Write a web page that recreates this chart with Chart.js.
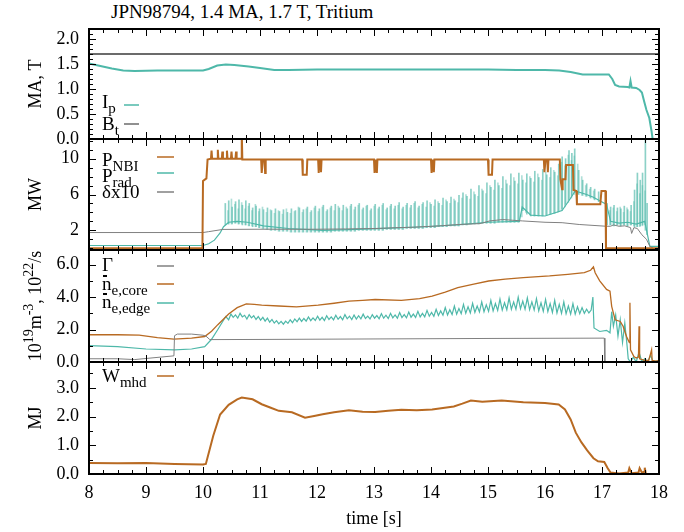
<!DOCTYPE html>
<html>
<head>
<meta charset="utf-8">
<script src="https://cdn.jsdelivr.net/npm/chart.js@4.4.0/dist/chart.umd.min.js"></script>
<style>
  body { margin: 0; background: #fff; }
  #wrap { position: relative; width: 684px; height: 532px; background: #fff; }
  #wrap canvas { position: absolute; left: 0; top: 0; }
  #title { position: absolute; left: 111px; top: 1px; font: 19px "Liberation Serif", "Times New Roman", serif; white-space: nowrap; }
</style>
</head>
<body>
<div id="wrap">
  <div id="title">JPN98794, 1.4 MA, 1.7 T, Tritium</div>
  <canvas id="c1" width="684" height="532"></canvas>
  <canvas id="c2" width="684" height="532"></canvas>
  <canvas id="c3" width="684" height="532"></canvas>
  <canvas id="c4" width="684" height="532"></canvas>
</div>
<script>
const SERIF = '"Liberation Serif", "Times New Roman", serif';
const TEAL = '#4eb8a9';
const BROWN = '#b86a22';

// tick labels
const timeTicks = [8, 9, 10, 11, 12, 13, 14, 15, 16, 17, 18];
const maTicks = [0, 0.5, 1, 1.5, 2];
const mwTicks = [2, 6, 10];
const denTicks = [0, 2, 4, 6];
const mjTicks = [0, 1, 2, 3];

// panel 1: plasma current and toroidal field [t, value]
const ip = [[8,1.51],[8.2,1.46],[8.4,1.41],[8.6,1.37],[8.8,1.36],[9.2,1.37],[9.6,1.37],[10.0,1.37],[10.1,1.4],
  [10.25,1.47],[10.4,1.49],[10.55,1.48],[10.8,1.45],[11.0,1.42],[11.25,1.38],[11.5,1.38],[12.0,1.39],[12.5,1.39],
  [13.0,1.39],[13.5,1.39],[14.0,1.39],[14.5,1.39],[15.0,1.39],[15.5,1.38],[16.0,1.38],[16.25,1.37],[16.45,1.34],
  [16.66,1.29],[16.9,1.29],[17.12,1.29],[17.18,1.2],[17.23,1.08],[17.3,1.05],[17.45,1.04],[17.48,1.03],[17.5,1.16],
  [17.52,1.03],[17.6,1.02],[17.66,0.98],[17.7,0.93],[17.74,0.75],[17.78,0.58],[17.83,0.42],[17.87,0.15],[17.9,-0.1]];
const bt = [[8,1.7],[18,1.7]];

// panel 2: heating, radiation, triangularity
const pnbi = [[8,0],[9.99,0],[10.0,7.5],[10.06,7.8],[10.08,9.9],[10.14,10.0],[10.15,10.9],[10.16,10.0],[10.25,10.0],
  [10.26,11.0],[10.27,10.0],[10.33,10.0],[10.34,10.8],[10.35,10.0],[10.41,10.0],[10.42,10.9],[10.43,10.0],[10.49,10.0],
  [10.5,10.8],[10.51,10.0],[10.57,10.0],[10.58,10.8],[10.59,10.0],[10.67,10.0],[10.68,13],[10.69,9.9],[11.02,9.9],
  [11.03,8.4],[11.05,9.9],[11.08,9.9],[11.09,8.4],[11.1,9.9],[11.74,9.9],[11.75,8.2],[11.82,8.2],[11.83,9.9],
  [12.02,9.9],[12.03,8.4],[12.04,9.9],[12.06,9.9],[12.07,8.5],[12.08,9.9],[13.0,9.9],[13.01,8.4],[13.03,9.9],
  [13.05,8.4],[13.06,9.9],[14.0,9.9],[14.01,8.4],[14.03,9.9],[14.05,8.5],[14.06,9.9],[15.0,9.9],[15.01,8.2],
  [15.07,8.2],[15.08,9.9],[15.98,9.9],[15.99,8.5],[16.01,9.9],[16.04,9.9],[16.05,8.5],[16.06,9.9],[16.26,9.9],
  [16.27,7.7],[16.3,6.6],[16.31,7.7],[16.36,7.7],[16.37,9.3],[16.49,9.3],[16.5,6.5],[16.55,6.4],[16.56,4.9],
  [16.97,4.9],[16.99,6.4],[17.06,6.4],[17.07,0],[18,0]];
const prad = [[8,0.3],[10.0,0.3],[10.1,0.5],[10.2,0.9],[10.3,1.7],[10.36,2.4],[10.45,2.9],[10.6,3.0],[10.78,2.9],
  [11.06,2.5],[11.5,2.2],[12.1,2.0],[12.7,2.1],[13.3,2.25],[13.9,2.4],[14.45,2.6],[15.0,2.9],[15.55,3.0],[15.6,4.6],
  [15.75,3.7],[16.0,3.6],[16.3,4.2],[16.44,5.5],[16.53,6.4],[16.73,6.0],[16.85,5.7],[16.96,5.3],[17.08,4.9],
  [17.15,3.0],[17.3,2.8],[17.45,2.9],[17.6,2.7],[17.75,3.0],[17.84,0.2],[18,0.2]];
// radiation bursts [t, low, high]
const pradSpikes = [[10.40,2.6,5.0],[10.46,2.7,5.3],[10.52,2.7,4.6],[10.58,2.8,5.2],[10.64,2.7,5.4],[10.70,2.6,4.8],
  [10.76,2.6,5.3],[10.82,2.5,5.0],[10.88,2.4,4.5],[10.94,2.4,4.7],[11.00,2.3,4.4],[11.07,2.2,4.3],[11.14,2.1,4.5],
  [11.21,2.0,4.2],[11.28,2.0,4.4],[11.35,1.9,4.1],[11.42,1.9,4.3],[11.49,1.9,4.0],[11.56,1.8,4.4],[11.63,1.8,4.2],
  [11.70,1.8,4.5],[11.77,1.8,4.3],[11.84,1.8,4.6],[11.91,1.8,4.2],[11.98,1.8,4.7],[12.05,1.8,4.4],[12.12,1.8,4.8],
  [12.19,1.8,4.3],[12.26,1.8,4.7],[12.33,1.9,4.9],[12.40,1.9,4.5],[12.47,1.9,4.8],[12.54,1.9,4.4],[12.61,1.9,4.9],
  [12.68,1.9,4.6],[12.75,2.0,5.0],[12.82,2.0,4.5],[12.89,2.0,4.8],[12.96,2.0,4.4],[13.03,2.0,4.9],[13.10,2.0,4.6],
  [13.17,2.0,5.0],[13.24,2.1,4.5],[13.31,2.1,4.9],[13.38,2.1,4.7],[13.45,2.1,5.1],[13.52,2.1,4.6],[13.59,2.2,5.0],
  [13.66,2.2,4.8],[13.73,2.2,5.2],[13.80,2.2,4.7],[13.87,2.2,5.1],[13.94,2.3,5.3],[14.01,2.3,4.9],[14.08,2.3,5.4],
  [14.15,2.4,5.0],[14.22,2.4,5.6],[14.29,2.4,5.2],[14.36,2.5,5.7],[14.43,2.5,5.3],[14.50,2.5,5.9],[14.57,2.6,6.2],
  [14.64,2.6,5.8],[14.71,2.7,6.6],[14.78,2.7,6.0],[14.85,2.7,7.0],[14.92,2.8,6.4],[14.99,2.8,7.3],[15.06,2.8,6.8],
  [15.13,2.8,7.6],[15.20,2.9,7.0],[15.27,2.9,8.0],[15.34,2.9,7.2],[15.41,2.9,8.3],[15.48,2.9,7.5],[15.55,2.9,8.4],
  [15.62,4.2,7.6],[15.69,3.8,8.3],[15.76,3.6,7.8],[15.83,3.6,8.6],[15.90,3.6,7.9],[15.97,3.6,8.8],[16.04,3.7,8.2],
  [16.11,3.8,9.0],[16.18,3.9,8.5],[16.25,4.1,9.4],[16.31,4.4,10.2],[16.37,4.9,10.0],[16.43,5.4,10.9],[16.48,5.9,10.6],
  [16.53,6.2,11.1],[16.60,6.0,8.7],[16.67,5.9,7.6],[16.74,5.8,7.2],[16.81,5.6,6.8],[16.88,5.4,6.6],[16.95,5.2,6.3],
  [17.10,2.6,5.0],[17.16,2.6,4.6],[17.22,2.5,4.8],[17.28,2.6,4.5],[17.34,2.5,4.4],[17.40,2.6,4.7],[17.46,2.5,4.3],
  [17.52,2.6,4.8],[17.58,2.4,6.5],[17.63,2.4,8.4],[17.68,2.5,7.6],[17.72,2.6,8.4],[17.77,2.0,13],[17.80,1.5,5.0]];
// weaker bursts between the main ones [t, low, high]
const pradSpikes2 = [[10.43,2.7,4.2],[10.49,2.7,5.5],[10.55,2.8,4.9],[10.61,2.7,4.4],[10.67,2.7,5.1],[10.73,2.6,4.4],
  [10.79,2.5,4.7],[10.85,2.5,4.2],[10.91,2.4,4.9],[10.97,2.3,4.1],[11.035,2.2,4.6],[11.105,2.1,4.0],[11.175,2.0,4.3],
  [11.245,2.0,3.9],[11.315,1.9,4.2],[11.385,1.9,3.8],[11.455,1.9,4.4],[11.525,1.8,3.9],[11.595,1.8,4.1],[11.665,1.8,4.6],
  [11.735,1.8,4.0],[11.805,1.8,4.4],[11.875,1.8,4.0],[11.945,1.8,4.5],[12.015,1.8,4.1],[12.085,1.8,4.6],[12.155,1.8,4.1],
  [12.225,1.8,4.5],[12.295,1.9,4.2],[12.365,1.9,4.7],[12.435,1.9,4.2],[12.505,1.9,4.6],[12.575,1.9,4.7],[12.645,1.9,4.3],
  [12.715,2.0,4.8],[12.785,2.0,4.3],[12.855,2.0,4.7],[12.925,2.0,4.2],[12.995,2.0,4.7],[13.065,2.0,4.4],[13.135,2.0,4.8],
  [13.205,2.1,4.3],[13.275,2.1,4.7],[13.345,2.1,4.4],[13.415,2.1,4.8],[13.485,2.1,4.4],[13.555,2.2,4.8],[13.625,2.2,4.5],
  [13.695,2.2,5.0],[13.765,2.2,4.5],[13.835,2.2,4.9],[13.905,2.3,4.6],[13.975,2.3,5.1],[14.045,2.3,4.7],[14.115,2.4,5.2],
  [14.185,2.4,4.8],[14.255,2.4,5.4],[14.325,2.5,5.0],[14.395,2.5,5.5],[14.465,2.5,5.1],[14.535,2.6,5.6],[14.605,2.6,6.0],
  [14.675,2.7,5.5],[14.745,2.7,6.3],[14.815,2.7,5.8],[14.885,2.8,6.6],[14.955,2.8,6.1],[15.025,2.8,7.0],[15.095,2.8,6.5],
  [15.165,2.9,7.3],[15.235,2.9,6.7],[15.305,2.9,7.6],[15.375,2.9,7.0],[15.445,2.9,7.9],[15.515,2.9,7.2],[15.585,3.5,8.1],
  [15.655,4.0,7.3],[15.725,3.7,8.0],[15.795,3.6,7.4],[15.865,3.6,8.3],[15.935,3.6,7.6],[16.005,3.7,8.5],[16.075,3.8,7.9],
  [16.145,3.9,8.7],[16.215,4.0,8.1],[16.28,4.2,9.6],[16.34,4.6,9.2],[16.40,5.1,10.4],[16.455,5.6,9.8],[16.505,6.0,10.3],
  [16.565,6.1,9.4],[16.635,5.9,8.0],[16.705,5.8,7.0],[16.775,5.7,6.6],[16.845,5.5,6.4],[17.13,2.6,4.2],[17.19,2.5,4.5],
  [17.25,2.6,4.1],[17.31,2.5,4.6],[17.37,2.6,4.0],[17.43,2.5,4.5],[17.49,2.6,4.1],[17.55,2.5,5.2],[17.605,2.4,7.2],
  [17.655,2.4,6.1],[17.70,2.5,7.0],[17.745,2.6,6.4]];
const delta10 = [[8,1.75],[10.0,1.75],[10.1,1.85],[10.35,2.1],[11.0,2.12],[12.0,2.12],[12.5,2.15],[13.0,2.2],
  [13.3,2.27],[13.7,2.35],[14.16,2.5],[14.5,2.65],[14.86,2.75],[15.03,3.05],[15.26,3.2],[15.6,3.05],[16.0,2.9],
  [16.3,2.85],[16.6,2.65],[17.08,2.45],[17.15,2.45],[17.2,2.6],[17.3,2.45],[17.4,2.5],[17.5,2.3],[17.52,1.65],
  [17.56,2.3],[17.62,2.2],[17.7,1.5],[17.78,1.0],[17.84,0.2],[17.9,0.0]];

// panel 3: gas fuelling and densities
const gas = [[8,0.2],[8.5,0.2],[8.8,0.15],[9.49,0.38],[9.5,1.62],[9.55,1.72],[9.8,1.72],[10.0,1.65],[10.05,1.6],
  [10.12,1.38],[11.0,1.39],[13.0,1.42],[15.0,1.45],[17.04,1.47],[17.05,0],[18,0]];
const neCore = [[8,1.68],[8.5,1.68],[8.88,1.66],[9.2,1.5],[9.49,1.41],[9.8,1.47],[10.03,1.57],[10.15,1.9],[10.26,2.3],
  [10.45,2.96],[10.6,3.35],[10.76,3.58],[10.9,3.55],[11.03,3.5],[11.33,3.45],[11.64,3.4],[12.02,3.5],[12.3,3.62],
  [12.56,3.75],[12.8,3.8],[13.02,3.85],[13.48,3.8],[13.8,3.9],[14.02,4.06],[14.25,4.3],[14.47,4.58],[14.75,4.8],
  [15.01,4.99],[15.3,5.1],[15.62,5.2],[16.08,5.3],[16.4,5.4],[16.69,5.5],[16.8,5.65],[16.85,5.86],[16.88,5.5],
  [16.96,5.0],[17.08,4.47],[17.14,4.37],[17.17,3.43],[17.23,2.6],[17.32,2.5],[17.37,2.2],[17.43,1.57],[17.48,1.2],
  [17.49,3.65],[17.5,0.75],[17.56,0.33],[17.6,0.25],[17.64,0.3],[17.65,2.2],[17.66,0.2],[17.75,0.1],[17.82,0.1],
  [17.87,0.75],[17.88,0.1],[17.95,0.05],[18,0.1]];
const neEdge = [[8,1.01],[8.5,0.95],[9.0,0.8],[9.5,0.75],[9.8,0.8],[10.03,0.95],[10.15,1.4],[10.26,2.0],[10.4,2.8],
  [10.45,2.6],[10.49,2.95],[10.53,2.75],[10.57,2.9],[10.61,2.7],[10.65,3.0],[10.69,2.78],[10.73,2.88],[10.77,2.65],
  [10.81,2.92],[10.85,2.72],[10.89,2.85],[10.93,2.62],[10.97,2.8],[11.01,2.58],[11.05,2.75],[11.09,2.52],[11.13,2.7],
  [11.17,2.45],[11.21,2.62],[11.25,2.4],[11.29,2.55],[11.33,2.35],[11.37,2.5],[11.41,2.33],[11.45,2.52],[11.49,2.38],
  [11.53,2.6],[11.57,2.42],[11.61,2.65],[11.65,2.48],[11.69,2.7],[11.73,2.5],[11.77,2.68],[11.81,2.52],[11.85,2.78],
  [11.89,2.55],[11.93,2.72],[11.97,2.56],[12.01,2.82],[12.05,2.58],[12.09,2.75],[12.13,2.55],[12.17,2.85],[12.21,2.62],
  [12.25,2.78],[12.29,2.6],[12.33,2.88],[12.37,2.63],[12.41,2.8],[12.45,2.6],[12.49,2.92],[12.53,2.66],[12.57,2.82],
  [12.61,2.62],[12.65,2.9],[12.69,2.64],[12.73,2.85],[12.77,2.66],[12.81,2.95],[12.85,2.68],[12.89,2.83],[12.93,2.65],
  [12.97,2.92],[13.01,2.7],[13.05,2.86],[13.09,2.66],[13.13,2.98],[13.17,2.7],[13.21,2.88],[13.25,2.68],[13.29,3.0],
  [13.33,2.72],[13.37,2.9],[13.41,2.7],[13.45,3.05],[13.49,2.74],[13.53,2.92],[13.57,2.72],[13.61,3.08],[13.65,2.76],
  [13.69,2.95],[13.73,2.75],[13.77,3.12],[13.81,2.78],[13.85,3.0],[13.89,2.78],[13.93,3.18],[13.97,2.82],[14.01,3.05],
  [14.05,2.82],[14.09,3.25],[14.13,2.86],[14.17,3.15],[14.21,2.88],[14.25,3.35],[14.29,2.9],[14.33,3.22],[14.37,2.92],
  [14.41,3.45],[14.45,2.95],[14.49,3.3],[14.53,2.98],[14.57,3.55],[14.61,3.0],[14.65,3.4],[14.69,3.02],[14.73,3.62],
  [14.77,3.05],[14.81,3.45],[14.85,3.08],[14.89,3.7],[14.93,3.1],[14.97,3.52],[15.01,3.12],[15.05,3.8],[15.09,3.15],
  [15.13,3.6],[15.17,3.18],[15.21,3.88],[15.25,3.2],[15.29,3.65],[15.33,3.22],[15.37,3.95],[15.41,3.25],[15.45,3.7],
  [15.49,3.25],[15.53,4.0],[15.57,3.28],[15.61,3.75],[15.65,3.25],[15.69,3.95],[15.73,3.22],[15.77,3.7],[15.81,3.2],
  [15.85,3.9],[15.89,3.15],[15.93,3.65],[15.97,3.12],[16.01,3.85],[16.05,3.1],[16.09,3.6],[16.13,3.05],[16.17,3.8],
  [16.21,3.02],[16.25,3.55],[16.29,3.0],[16.33,3.7],[16.37,2.98],[16.41,3.45],[16.45,2.95],[16.49,3.6],[16.53,2.95],
  [16.57,3.4],[16.61,2.98],[16.65,3.35],[16.69,3.0],[16.73,3.25],[16.77,3.02],[16.81,3.2],[16.84,4.0],
  [16.86,2.1],[16.96,1.88],[17.08,1.95],[17.14,1.8],[17.17,3.1],[17.2,2.2],[17.24,2.9],[17.28,1.6],[17.32,2.6],
  [17.36,1.2],[17.4,2.4],[17.44,1.0],[17.46,0.2],[17.5,0.0],[17.55,0.3],[17.6,0.0],[17.65,0.6],[17.7,0.0],
  [17.75,0.2],[17.8,0.0],[17.85,0.4],[17.9,0.0],[18,0.1]];

// panel 4: stored energy
const wmhd = [[8,0.38],[8.5,0.37],[9.0,0.38],[9.5,0.35],[10.0,0.33],[10.05,0.35],[10.18,1.33],[10.3,2.07],[10.45,2.41],
  [10.6,2.6],[10.68,2.66],[10.87,2.6],[11.03,2.43],[11.2,2.3],[11.33,2.2],[11.56,2.15],[11.79,1.96],[11.95,2.02],
  [12.1,2.08],[12.3,2.15],[12.56,2.22],[12.8,2.17],[13.02,2.16],[13.25,2.2],[13.48,2.24],[13.75,2.22],[14.02,2.25],
  [14.4,2.35],[14.55,2.45],[14.7,2.56],[14.9,2.52],[15.24,2.56],[15.62,2.5],[16.0,2.47],[16.24,2.42],[16.35,2.25],
  [16.45,1.9],[16.54,1.44],[16.64,1.1],[16.74,0.82],[16.85,0.55],[16.93,0.44],[17.04,0.42],[17.1,0.2],[17.15,0.05],
  [17.3,0.02],[17.46,0.05],[17.48,0.2],[17.52,0.03],[17.64,0.05],[17.66,0.2],[17.7,0.05],[17.74,0.08],[17.75,0.22],
  [17.77,0.0]];

const pts = arr => arr.map(([x, y]) => ({ x, y }));
const line = (data, color, width) => ({
  type: 'line', data: pts(data), borderColor: color, borderWidth: width,
  pointRadius: 0, tension: 0, fill: false
});
const bursts = (data, color) => ({
  type: 'bar', data: data.map(([t, lo, hi]) => ({ x: t, y: [lo, hi] })),
  backgroundColor: color, borderWidth: 0, barThickness: 1
});

// text with sub (-1) / superscripts (1)
function rich(ctx, parts, x, y, size, draw) {
  let cx = x;
  for (const [t, m] of parts) {
    const fs = m ? Math.round(size * 0.8) : size;
    ctx.font = fs + 'px ' + SERIF;
    const dy = m === 1 ? -size * 0.42 : m === -1 ? size * 0.24 : 0;
    if (draw) ctx.fillText(t, cx, y + dy);
    cx += ctx.measureText(t).width;
  }
  return cx - x;
}

function framePlugin(cfg) {
  return {
    id: 'frame',
    afterDatasetsDraw(chart) {
      const { ctx, chartArea: a } = chart;
      const xs = chart.scales.x, ys = chart.scales.y;
      ctx.save();
      ctx.strokeStyle = '#000';
      ctx.lineWidth = 1;
      ctx.beginPath();
      for (let i = 0; i <= 40; i++) {
        const v = xs.min + i * 0.25;
        const px = Math.round(xs.getPixelForValue(v)) + 0.5;
        const len = i % 4 === 0 ? 7 : 4;
        ctx.moveTo(px, a.top); ctx.lineTo(px, a.top + len);
        ctx.moveTo(px, a.bottom); ctx.lineTo(px, a.bottom - len);
      }
      const n = Math.floor((ys.max - cfg.minorFrom) / cfg.minor + 1e-6);
      for (let i = 0; i <= n; i++) {
        const v = cfg.minorFrom + i * cfg.minor;
        const py = Math.round(ys.getPixelForValue(v)) + 0.5;
        const len = cfg.ticks.some(t => Math.abs(t - v) < 1e-6) ? 7 : 4;
        ctx.moveTo(a.left, py); ctx.lineTo(a.left + len, py);
        ctx.moveTo(a.right, py); ctx.lineTo(a.right - len, py);
      }
      ctx.stroke();
      ctx.lineWidth = 2;
      ctx.strokeRect(a.left, a.top, a.right - a.left, a.bottom - a.top);

      // rotated axis title
      ctx.fillStyle = '#000';
      ctx.textBaseline = 'alphabetic';
      ctx.textAlign = 'left';
      ctx.save();
      ctx.translate(41, (a.top + a.bottom) / 2);
      ctx.rotate(-Math.PI / 2);
      const w = rich(ctx, cfg.yTitle, 0, 0, 18, false);
      rich(ctx, cfg.yTitle, -w / 2, 0, 18, true);
      ctx.restore();

      // key
      for (const e of cfg.key) {
        const tx = a.left + 13, ty = a.top + e.y;
        ctx.fillStyle = '#000';
        rich(ctx, e.parts, tx, ty, 19, true);
        if (e.bar) ctx.fillRect(tx + 1, ty - 15, 4, 2);
        ctx.strokeStyle = e.color;
        ctx.lineWidth = 1.5;
        ctx.beginPath();
        ctx.moveTo(a.left + cfg.keyX[0], a.top + e.ly);
        ctx.lineTo(a.left + cfg.keyX[1], a.top + e.ly);
        ctx.stroke();
      }
      ctx.restore();
    }
  };
}

function panel(id, cfg) {
  const last = cfg.last;
  const font = { family: SERIF, size: 18 };
  new Chart(document.getElementById(id), {
    type: 'line',
    data: { datasets: cfg.datasets },
    options: {
      responsive: false,
      animation: false,
      events: [],
      layout: { padding: { left: 0, right: 25, top: cfg.top, bottom: last ? 0 : 532 - cfg.bottom } },
      plugins: { legend: { display: false }, tooltip: { enabled: false } },
      scales: {
        x: {
          type: 'linear', min: 8, max: 18, offset: false,
          grid: { display: false, drawTicks: false },
          border: { display: false },
          afterBuildTicks: s => { s.ticks = timeTicks.map(v => ({ value: v })); },
          afterFit: s => { s.height = last ? 532 - cfg.bottom : 0; },
          ticks: { display: last, font, color: '#000', padding: 8, maxRotation: 0, autoSkip: false },
          title: { display: last, text: 'time [s]', font, color: '#000', padding: { top: 0, bottom: 2 } }
        },
        y: {
          type: 'linear', min: cfg.min, max: cfg.max,
          grid: { display: false, drawTicks: false },
          border: { display: false },
          afterBuildTicks: s => { s.ticks = cfg.ticks.map(v => ({ value: v })); },
          afterFit: s => { s.width = 89; },
          ticks: { font, color: '#000', padding: 10, autoSkip: false, callback: v => v.toFixed(cfg.digits) }
        }
      }
    },
    plugins: [framePlugin(cfg)]
  });
}

panel('c1', {
  top: 29, bottom: 139, min: 0, max: 2.2, ticks: maTicks, digits: 1, minor: 0.1, minorFrom: 0,
  yTitle: [['MA, T', 0]],
  keyX: [35, 50],
  key: [
    { parts: [['I', 0], ['p', -1]], color: TEAL, y: 79, ly: 76 },
    { parts: [['B', 0], ['t', -1]], color: '#6b6b6b', y: 101, ly: 95 }
  ],
  datasets: [line(ip, TEAL, 2), line(bt, '#6b6b6b', 2)]
});

panel('c2', {
  top: 139, bottom: 250, min: -0.2, max: 12.2, ticks: mwTicks, digits: 0, minor: 1, minorFrom: 0,
  yTitle: [['MW', 0]],
  keyX: [68, 85],
  key: [
    { parts: [['P', 0], ['NBI', -1]], color: BROWN, y: 27, ly: 18 },
    { parts: [['P', 0], ['rad', -1]], color: TEAL, y: 43, ly: 34 },
    { parts: [['δx10', 0]], color: '#808080', y: 59, ly: 53 }
  ],
  datasets: [
    line(pnbi, BROWN, 2),
    line(delta10, '#808080', 1),
    line(prad, TEAL, 1.2),
    bursts(pradSpikes, 'rgba(78,184,169,0.65)'),
    bursts(pradSpikes2, 'rgba(78,184,169,0.45)')
  ]
});

panel('c3', {
  top: 250, bottom: 362, min: 0, max: 6.9, ticks: denTicks, digits: 1, minor: 1, minorFrom: 0,
  yTitle: [['10', 0], ['19', 1], ['m', 0], ['-3', 1], [', 10', 0], ['22', 1], ['/s', 0]],
  keyX: [68, 85],
  key: [
    { parts: [['Γ', 0]], color: '#808080', y: 21, ly: 16 },
    { parts: [['n', 0], ['e,core', -1]], color: BROWN, y: 40, ly: 34, bar: true },
    { parts: [['n', 0], ['e,edge', -1]], color: TEAL, y: 58, ly: 53, bar: true }
  ],
  datasets: [line(gas, '#808080', 1), line(neCore, BROWN, 1.3), line(neEdge, TEAL, 1.2)]
});

panel('c4', {
  top: 362, bottom: 474, min: 0, max: 3.9, ticks: mjTicks, digits: 1, minor: 0.5, minorFrom: 0, last: true,
  yTitle: [['MJ', 0]],
  keyX: [68, 85],
  key: [
    { parts: [['W', 0], ['mhd', -1]], color: BROWN, y: 20, ly: 14 }
  ],
  datasets: [line(wmhd, BROWN, 2)]
});
</script>
</body>
</html>
